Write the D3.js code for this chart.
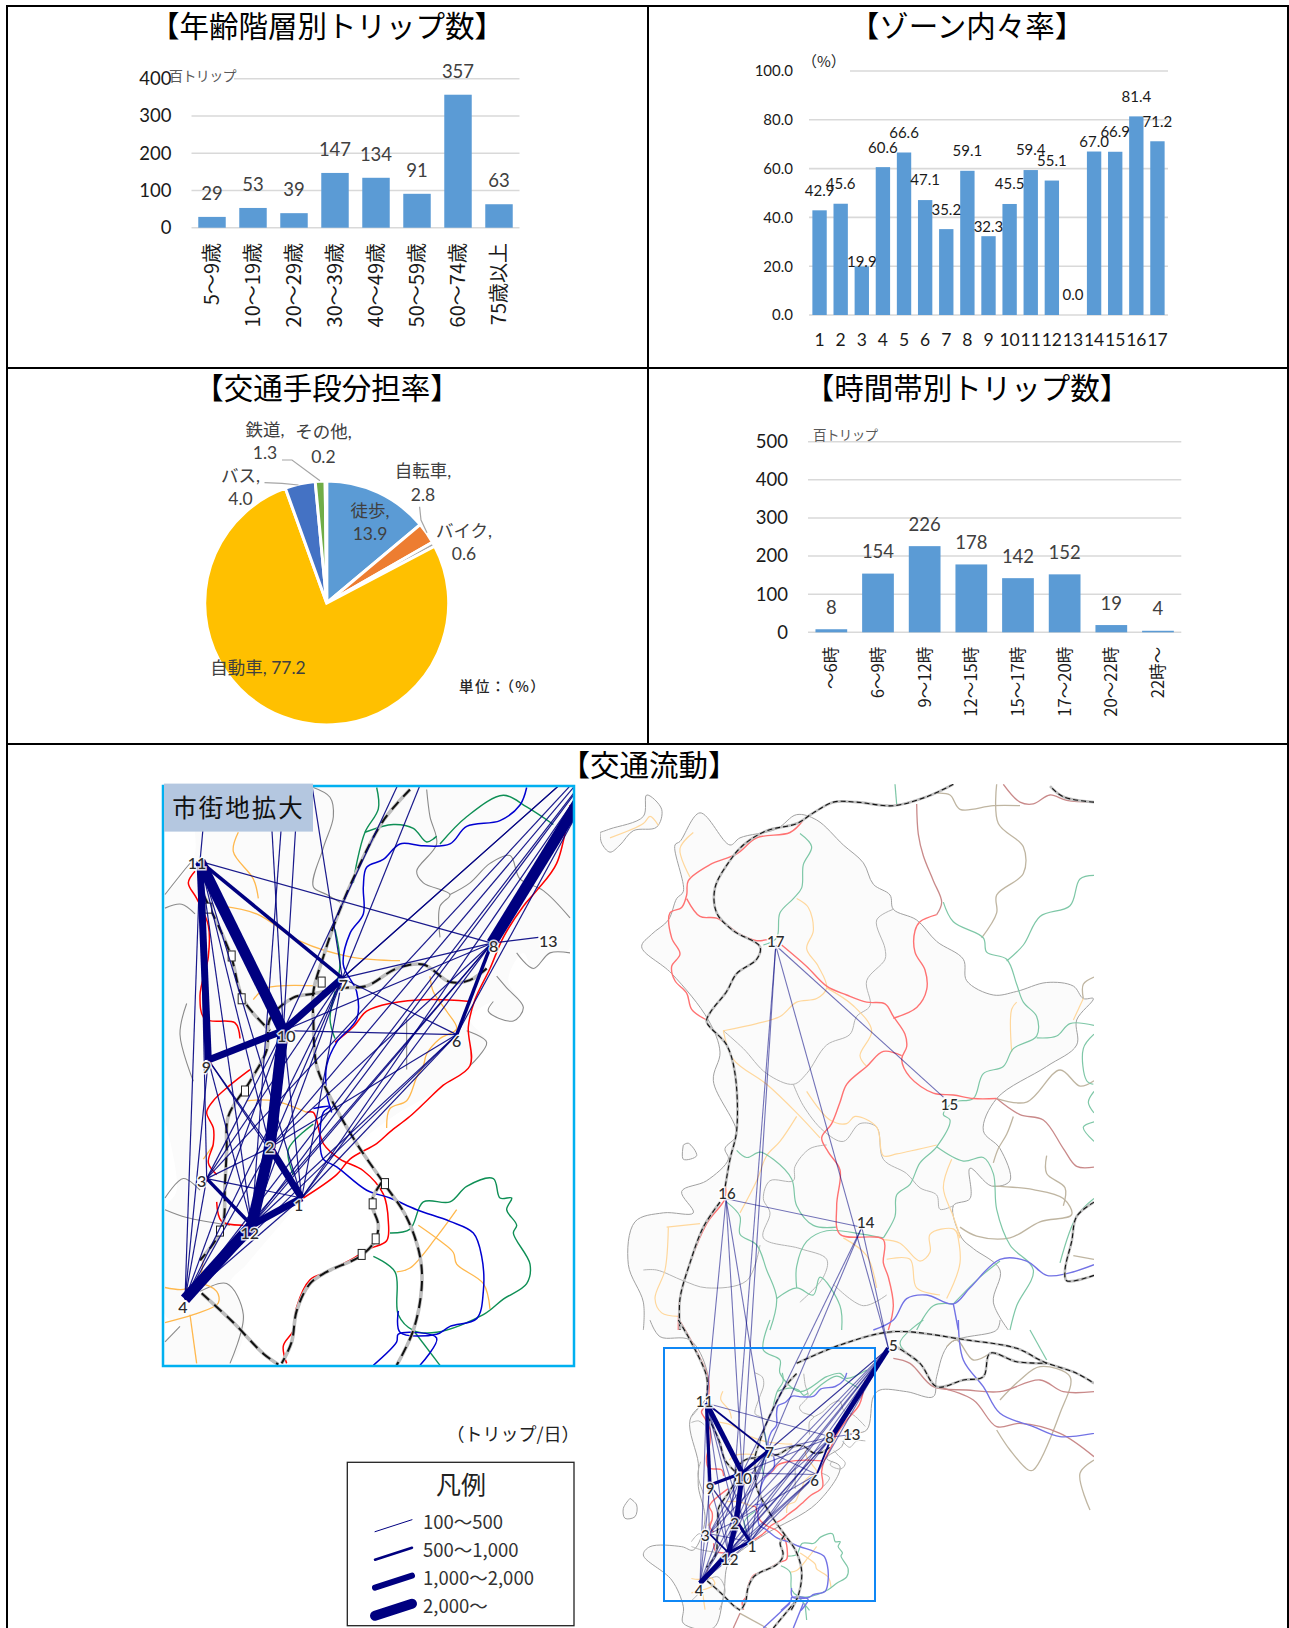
<!DOCTYPE html>
<html lang="ja">
<head>
<meta charset="utf-8">
<title>交通実態調査</title>
<script src="https://cdn.jsdelivr.net/npm/d3@7"></script>
<style>
    html, body { margin: 0; padding: 0; background: #fff; }
    svg { display: block; }
    text { font-family: "Lato", "Noto Sans CJK JP", sans-serif; }
    .cjk { font-family: "Noto Sans CJK JP", sans-serif; }
</style>
</head>
<body>
<div id="page"></div>
<script>
/* * * * * * * * * * * * * *
*          Data            *
* * * * * * * * * * * * * */

const ageLabels = ["5～9歳", "10～19歳", "20～29歳", "30～39歳", "40～49歳", "50～59歳", "60～74歳", "75歳以上"];
const ageTrips = [29, 53, 39, 147, 134, 91, 357, 63];
const ageTicks = [0, 100, 200, 300, 400];

const zoneLabels = ["1", "2", "3", "4", "5", "6", "7", "8", "9", "10", "11", "12", "13", "14", "15", "16", "17"];
const zoneRates = [42.9, 45.6, 19.9, 60.6, 66.6, 47.1, 35.2, 59.1, 32.3, 45.5, 59.4, 55.1, 0.0, 67.0, 66.9, 81.4, 71.2];
const zoneTicks = [0, 20, 40, 60, 80, 100];

const modeNames = ["徒歩", "自転車", "バイク", "自動車", "バス", "鉄道", "その他"];
const modeShares = [13.9, 2.8, 0.6, 77.2, 4.0, 1.3, 0.2];
const modeColors = ["#5B9BD5", "#ED7D31", "#A5A5A5", "#FFC000", "#4472C4", "#70AD47", "#255E91"];

const hourLabels = ["～6時", "6～9時", "9～12時", "12～15時", "15～17時", "17～20時", "20～22時", "22時～"];
const hourTrips = [8, 154, 226, 178, 142, 152, 19, 4];
const hourTicks = [0, 100, 200, 300, 400, 500];

const legendLabels = ["100～500", "500～1,000", "1,000～2,000", "2,000～"];

// zones of the flow map, in the pixel space of the enlarged map
const zoneIds = [1, 2, 3, 4, 5, 6, 7, 8, 9, 10, 11, 12, 13, 14, 15, 16, 17];
const zoneX = [301.7, 270, 206.7, 185, 623.8, 456.7, 342.3, 491.7, 208.3, 283.3, 200, 251.7, 538.3, 561.8, 751.9, 245.6, 361.4];
const zoneY = [1198, 1147.4, 1178.6, 1299.2, 727.8, 1034.6, 978.2, 943.2, 1059.9, 1030.7, 861.4, 1225.3, 937.3, 433, 116.6, 364, -252];

// flows: [from, to] per legend class
const flows100 = [[11,8],[11,4],[11,12],[11,3],[11,2],[11,1],[9,2],[9,12],[9,1],[9,4],[10,4],[10,6],[10,8],[10,12],[10,1],[10,3],
    [7,8],[7,6],[7,1],[7,2],[7,12],[7,4],[7,3],[7,5],[8,2],[8,1],[8,12],[8,13],[8,4],[6,1],[6,2],[6,12],[6,4],
    [5,1],[5,2],[5,12],[5,10],[5,4],[5,6],[5,3],[3,2],[3,1],[3,4],[4,2],[4,1],
    [16,11],[16,10],[16,7],[16,14],[17,10],[17,12],[17,15],[17,5],[14,7],[14,10],[14,5]];
const flows500 = [[11,7],[8,6],[3,12]];
const flows1000 = [[7,10],[9,10],[12,1],[11,9],[2,1]];
const flows2000 = [[8,5],[11,10],[2,12],[10,2],[4,12]];

// roads of the enlarged map (frame 1320 x 1568)
const insetRed = [
    [[460,1100],[560,1040],[600,1000],[680,960],[720,930],[780,890],[830,850],[880,810],[960,760],[955,660],[975,590],[1020,510],[1060,430],[1120,350],[1160,310],[1220,240],[1260,90]],
    [[555,700],[610,660],[650,620],[720,600],[840,590],[960,595]],
    [[135,260],[115,290],[140,330],[175,400],[175,480],[150,580],[165,640],[255,650],[270,690]],
    [[300,770],[240,810],[190,850],[170,880],[190,920],[190,960],[175,1010],[200,1040]],
    [[200,1110],[215,1160],[280,1170]],
    [[470,880],[490,880],[520,960],[570,1000],[640,1030],[700,1090],[715,1160],[710,1210],[660,1230],[600,1260],[530,1290],[480,1310],[440,1380],[430,1440],[400,1480],[410,1525]]
];
const insetBlue = [
    [[1130,45],[1110,90],[1050,130],[950,145],[900,190],[820,195],[750,190],[700,230],[650,250],[640,300],[640,370],[600,420],[580,500],[620,570],[620,640],[560,700],[530,760],[530,830],[545,880]],
    [[490,870],[540,865],[520,880],[510,960],[520,1000],[560,1020],[650,1080],[720,1100],[800,1130],[900,1160],[970,1190],[995,1250],[1000,1340],[980,1410],[900,1430],[860,1450],[750,1445],[745,1390]],
    [[670,1530],[740,1470],[745,1450],[860,1460],[810,1530]]
];
const insetGreen = [
    [[680,45],[685,100],[645,160],[620,240],[610,290]],
    [[645,160],[730,140],[790,150],[830,185],[860,170]],
    [[870,190],[950,120],[1060,65],[1130,95],[1210,140]],
    [[555,410],[570,500],[540,640],[555,690]],
    [[490,910],[415,975],[430,1040]],
    [[720,1190],[780,1180],[820,1110],[900,1110],[950,1070],[1030,1050],[1050,1100],[1085,1100],[1070,1130],[1100,1170],[1090,1190],[1140,1270],[1130,1320],[1060,1360],[1000,1400],[860,1445],[790,1440],[745,1400],[735,1290],[670,1250]],
    [[790,1440],[870,1530]]
];
const insetOrange = [
    [[265,160],[250,210],[310,280],[325,330]],
    [[215,350],[320,370],[450,440],[600,480],[750,490]],
    [[310,590],[350,560],[500,555]],
    [[840,530],[850,570],[890,620],[920,665],[870,690],[830,730],[820,760],[800,790],[770,850],[720,870],[710,920]],
    [[160,1000],[190,965]],
    [[290,850],[370,850],[470,880]],
    [[45,1330],[100,1335],[150,1320],[200,1340],[205,1370],[130,1400],[45,1420]],
    [[120,1400],[140,1525]],
    [[150,1320],[160,1260]],
    [[805,1170],[870,1210],[910,1240],[920,1270],[1000,1320],[1020,1385]],
    [[920,1130],[860,1200],[780,1280],[740,1290]]
];
const insetGray = [
    [[45,320],[110,250],[130,230]],
    [[45,355],[95,345],[135,370]],
    [[110,600],[90,680],[130,800]],
    [[45,1100],[100,1050],[150,1080]],
    [[45,1130],[110,1150],[240,1170]],
    [[490,45],[540,70],[550,120],[520,200],[490,300],[530,320],[570,340]],
    [[830,50],[840,120],[860,190],[800,260],[820,290],[900,320],[870,350],[870,430]],
    [[900,320],[960,290],[1020,240],[1080,220],[1110,280],[1180,310],[1260,380]],
    [[1100,470],[1150,510],[1200,470],[1260,470]],
    [[1040,530],[1070,560],[1120,610],[1090,645],[1015,620],[1030,595]],
    [[950,670],[1010,700],[960,760]],
    [[770,640],[770,770]],
    [[150,1340],[230,1320],[280,1400],[240,1525]],
    [[45,1470],[90,1430]]
];
const insetRail = [
    [[780,50],[700,130],[620,260],[560,380],[520,480],[490,570],[490,640],[500,760],[540,840],[620,960],[700,1060],[770,1150],[810,1250],[815,1330],[790,1440],[740,1530]],
    [[160,320],[240,470],[280,590],[360,670]],
    [[1010,510],[960,540],[900,545],[820,500],[740,510],[650,555],[580,560],[490,575],[430,585],[360,640],[350,720],[300,800],[235,890],[230,980],[225,1060],[215,1180],[150,1260]],
    [[155,1345],[250,1420],[340,1500],[385,1528]],
    [[695,1060],[665,1110],[685,1170],[675,1210],[630,1250],[530,1290],[480,1320],[440,1390],[425,1470],[395,1525]]
];
const insetStations = [[175,355],[245,478],[275,588],[285,825],[210,1185],[515,545],[705,1063],[668,1115],[677,1205],[635,1245]];
const insetLand = [[45,320],[130,230],[160,45],[1270,45],[1270,380],[1250,470],[1200,470],[1150,515],[1120,470],[1075,540],[1120,610],[1090,645],[1020,620],[1030,595],[960,640],[1010,700],[960,760],[870,820],[730,890],[640,950],[560,1030],[460,1100],[400,1160],[290,1270],[240,1320],[285,1400],[240,1525],[45,1525],[45,1470],[90,1430],[45,1400],[45,1130],[80,1080],[45,900]];

// overview map, north half (frame 1500 x 1568)
const northLand = [[130,1568],[130,1490],[85,1385],[105,1265],[190,1240],[280,1240],[245,1180],[320,1150],[385,1090],[375,1060],[410,1020],[340,870],[360,790],[325,700],[215,570],[125,495],[155,460],[205,420],[230,360],[250,340],[225,210],[240,200],[300,120],[390,210],[420,190],[530,165],[590,125],[650,140],[730,210],[790,260],[820,320],[870,350],[880,390],[950,420],[1010,480],[1090,530],[1100,590],[1180,630],[1250,620],[1340,595],[1420,605],[1450,640],[1480,640],[1430,700],[1430,770],[1340,830],[1190,920],[1150,1010],[1200,1060],[1230,1150],[1175,1165],[1110,1115],[1110,1200],[1060,1220],[1085,1310],[1120,1340],[1200,1400],[1180,1490],[1225,1568]];
const northPeninsula = [[0,175],[30,165],[130,130],[140,70],[185,110],[170,160],[100,170],[60,210],[30,230],[5,205],[0,175]];
const northIsland = [[250,1050],[265,1045],[290,1080],[250,1090],[250,1050]];
const northRed = [
    [[610,140],[570,175],[470,190],[410,235],[330,265],[265,310],[260,350],[245,385],[210,400],[215,470],[240,515],[215,550],[225,590],[260,625],[275,670],[320,700]],
    [[260,360],[300,410],[350,415],[420,460],[470,478],[520,470]],
    [[545,490],[620,550],[680,605],[740,630],[800,650],[855,655],[880,690],[915,740],[920,775],[905,810],[930,860],[1000,905],[1060,910],[1120,920],[1190,920]],
    [[880,695],[950,665],[980,615],[975,560],[945,510],[945,450],[960,425],[1010,405]],
    [[905,800],[850,788],[800,830],[740,880],[720,930],[695,990],[665,1030],[685,1070],[720,1120],[710,1220],[720,1300],[850,1315],[850,1380],[865,1420],[880,1500],[865,1568]],
    [[375,1160],[375,1200],[320,1270],[270,1380],[240,1480],[235,1568]]
];
const northBrown = [
    [[1010,405],[1025,370],[1000,310],[970,240],[955,180],[950,95]],
    [[1190,920],[1260,965],[1330,980],[1390,1060],[1430,1110],[1482,1112]],
    [[1210,40],[1260,90],[1300,95],[1350,70],[1400,85],[1482,90]]
];
const northGreen = [
    [[600,178],[635,215],[610,265],[605,330],[580,360],[540,400],[530,470],[490,490]],
    [[1030,370],[1060,425],[1150,470],[1160,510],[1220,530],[1250,600],[1270,650],[1310,690],[1310,745],[1240,780],[1210,830],[1150,850],[1120,920],[1060,930],[1030,965],[1050,980],[1010,1055],[960,1100],[930,1160],[890,1190],[885,1250],[850,1310]],
    [[1482,295],[1440,305],[1410,380],[1320,410],[1270,490],[1220,535]],
    [[1310,750],[1370,745],[1410,710],[1482,715]],
    [[1010,1055],[1090,1095],[1150,1085],[1180,1130],[1190,1230],[1230,1330],[1300,1400],[1250,1500],[1230,1568]],
    [[410,1065],[440,1085],[480,1070],[520,1090],[575,1145],[590,1220],[640,1275],[710,1280]],
    [[380,1210],[420,1250],[420,1300],[470,1330],[500,1400],[530,1480],[510,1568]],
    [[530,1480],[590,1450],[640,1470],[660,1420],[720,1500],[725,1568]],
    [[850,1310],[790,1300],[680,1290],[620,1320],[590,1390],[590,1450]],
    [[1060,1495],[1000,1500],[950,1568]],
    [[1060,1495],[1140,1420],[1200,1375]],
    [[1380,1380],[1430,1250],[1482,1200]],
    [[1482,740],[1450,780],[1460,870],[1480,880]],
    [[1482,900],[1465,930],[1482,960]],
    [[1482,985],[1450,1000],[1482,1040]],
    [[885,40],[890,95]]
];
const northOrange = [
    [[30,190],[130,150],[150,130],[175,155]],
    [[280,175],[240,220],[270,300]],
    [[590,360],[625,385],[640,450],[620,500],[655,550],[680,610],[650,640],[590,650],[540,690],[470,710],[370,730]],
    [[680,610],[760,660],[815,730],[780,800],[800,830]],
    [[370,730],[400,810],[500,880],[590,960],[660,1030]],
    [[590,970],[540,1040],[500,1080],[470,1150],[420,1240]],
    [[620,900],[690,980],[740,990],[765,970],[830,1000],[850,1080],[890,1075],[1010,1050]],
    [[200,1280],[300,1270]],
    [[205,1280],[195,1400],[165,1480],[185,1520],[235,1530]],
    [[1055,1090],[1030,1170],[1060,1250],[1080,1310],[1060,1285],[990,1300],[990,1350],[960,1375],[900,1325],[850,1315]],
    [[1070,1290],[1080,1380],[1040,1480]],
    [[860,1370],[930,1370],[950,1450],[1020,1470]],
    [[1250,650],[1235,670],[1235,790]],
    [[1450,640],[1420,700]],
    [[730,1310],[800,1360],[830,1450]]
];
const northTan = [
    [[1010,65],[1050,70],[1080,110],[1180,100],[1260,100]],
    [[1190,40],[1195,150],[1270,215],[1270,290],[1190,350],[1190,400],[1145,470]],
    [[1482,580],[1450,600],[1450,640]],
    [[1190,920],[1280,930],[1380,840],[1440,885],[1482,870]],
    [[1240,970],[1220,1020],[1195,1060],[1180,1100]],
    [[1340,1080],[1340,1130],[1395,1170],[1390,1220]],
    [[1180,1165],[1300,1175],[1390,1200],[1415,1245],[1320,1265],[1230,1310],[1130,1305],[1080,1280]],
    [[1482,1370],[1420,1360]]
];
const northGray = [
    [[880,390],[830,420],[855,500],[855,530],[800,590],[810,660],[770,690],[750,740],[680,770],[620,850],[580,880],[500,850],[430,780],[370,730]],
    [[580,880],[610,940],[670,1010],[730,1040],[780,990],[830,1000],[850,1090],[920,1130],[960,1170],[1010,1190],[1020,1230],[1060,1220]],
    [[680,1050],[630,1060],[585,1110],[580,1150],[510,1150],[490,1200],[510,1240],[490,1310],[600,1340],[680,1370],[670,1420],[600,1490]],
    [[130,1400],[170,1400],[250,1430],[320,1450],[440,1430],[480,1330]],
    [[700,1440],[790,1500],[860,1470]]
];
const northRail = [
    [[1060,40],[980,75],[880,100],[770,90],[700,90],[640,120],[590,150],[500,170],[430,210],[385,260],[345,330],[350,400],[400,450],[480,495],[470,530],[410,570],[380,620],[330,680],[320,705],[380,770],[405,850],[410,1010],[390,1090],[375,1170]],
    [[360,1210],[310,1280],[270,1380],[240,1480],[240,1568]],
    [[1482,90],[1390,75],[1350,45]],
    [[1482,1210],[1430,1250],[1415,1320],[1395,1400],[1400,1430],[1482,1415]]
];
const northBlue = [
    [[820,1568],[880,1540],[920,1480],[980,1470],[1060,1495],[1110,1450],[1200,1370],[1280,1375],[1340,1415],[1400,1410],[1482,1385]],
    [[1060,1495],[1075,1568]]
];

// overview map, south half (frame 1500 x 924)
const southLand = [[150,0],[180,50],[270,60],[320,150],[320,230],[270,300],[295,430],[295,500],[315,600],[280,690],[245,680],[150,680],[130,705],[215,780],[250,860],[250,910],[340,924],[370,830],[385,730],[440,680],[500,640],[650,550],[720,440],[680,415],[725,380],[740,345],[800,330],[820,230],[840,210],[920,215],[1000,230],[1010,170],[1050,70],[1190,30],[1200,0]];
const southIsland = [[90,535],[70,565],[75,595],[105,590],[110,555],[90,535]];
const southRail = [
    [[235,0],[270,60],[320,170],[320,230]],
    [[590,130],[720,75],[880,35],[1100,60],[1250,85],[1330,125],[1430,160],[1482,190]],
    [[880,75],[960,130],[1010,200],[1090,180],[1150,170],[1170,100],[1250,125],[1340,130]],
    [[590,840],[520,924]]
];
const southBrown = [
    [[880,115],[930,130],[1000,200],[1100,210],[1200,215],[1320,180],[1390,215],[1482,215]],
    [[1010,200],[1120,240],[1190,320],[1260,310],[1380,340],[1482,410]],
    [[420,880],[400,924]]
];
const southRed = [
    [[238,0],[275,65],[325,175],[325,235]]
];
const southBlue = [
    [[1075,0],[1090,120],[1150,200],[1200,280],[1300,320],[1380,350],[1482,340]],
    [[570,850],[490,924]],
    [[610,850],[580,924]]
];
const southTan = [
    [[1200,240],[1260,180],[1320,140],[1410,170],[1380,280],[1300,450],[1285,450],[1230,390],[1190,330]],
    [[1170,100],[1120,120],[1070,60],[1040,80]],
    [[1482,420],[1440,460],[1470,570]],
    [[420,880],[500,924]]
];
const southGreen = [
    [[970,0],[900,70],[960,130]],
    [[1290,30],[1340,120]],
    [[510,0],[490,90],[540,120],[540,160],[600,215],[680,170],[720,160],[740,175],[800,150]],
    [[615,850],[620,900]]
];

/* * * * * * * * * * * * * *
*         Drawing          *
* * * * * * * * * * * * * */

const svg = d3.select("#page").append("svg")
    .attr("width", 1289)
    .attr("height", 1628);

// table frame
const frame = svg.append("g").attr("fill", "none").attr("stroke", "#000").attr("stroke-width", 2);
[[7, 6, 7, 1628], [1288, 6, 1288, 1628], [6, 6, 1289, 6], [6, 368, 1289, 368], [6, 744, 1289, 744], [648, 6, 648, 744]].forEach(d => {
    frame.append("line").attr("x1", d[0]).attr("y1", d[1]).attr("x2", d[2]).attr("y2", d[3]);
});

function panelTitle(label, x, y) {
    svg.append("text")
        .attr("class", "cjk")
        .attr("x", x)
        .attr("y", y)
        .attr("dy", "0.36em")
        .attr("text-anchor", "middle")
        .attr("font-size", 29.5)
        .attr("fill", "#000")
        .text(label);
}

panelTitle("【年齢階層別トリップ数】", 327, 26);
panelTitle("【ゾーン内々率】", 967, 26);
panelTitle("【交通手段分担率】", 327, 388);
panelTitle("【時間帯別トリップ数】", 967, 388);
panelTitle("【交通流動】", 649, 765);

// Column chart used by the three bar panels
function barChart(opt) {
    const g = svg.append("g");

    const x = d3.scaleBand()
        .domain(opt.labels)
        .range([opt.left, opt.right])
        .paddingInner(opt.padding)
        .paddingOuter(opt.padding / 2);

    const y = d3.scaleLinear()
        .domain([0, d3.max(opt.ticks)])
        .range([opt.bottom, opt.top]);

    // gridlines
    g.append("g").selectAll("line")
        .data(opt.ticks)
        .enter().append("line")
        .attr("x1", opt.left)
        .attr("x2", opt.right)
        .attr("y1", d => y(d))
        .attr("y2", d => y(d))
        .attr("stroke", "#D9D9D9")
        .attr("stroke-width", 1.6);

    // unit label sits on a white patch that hides the top gridline
    if (opt.unitPatch) {
        g.append("rect")
            .attr("x", opt.unitPatch[0])
            .attr("y", opt.unitPatch[1])
            .attr("width", opt.unitPatch[2])
            .attr("height", opt.unitPatch[3])
            .attr("fill", "#fff");
    }

    const yAxis = d3.axisLeft(y)
        .tickValues(opt.ticks)
        .tickSize(0)
        .tickPadding(opt.tickGap)
        .tickFormat(opt.tickFormat);

    const yG = g.append("g")
        .attr("transform", `translate(${opt.left},0)`)
        .call(yAxis);
    yG.select(".domain").remove();
    yG.selectAll("text")
        .attr("font-size", opt.tickSize)
        .attr("font-family", null)
        .attr("fill", "#1a1a1a");

    g.selectAll(".bar")
        .data(opt.values)
        .enter().append("rect")
        .attr("class", "bar")
        .attr("x", (d, i) => x(opt.labels[i]))
        .attr("y", d => y(d))
        .attr("width", x.bandwidth())
        .attr("height", d => y(0) - y(d))
        .attr("fill", "#5B9BD5");

    g.selectAll(".value")
        .data(opt.values)
        .enter().append("text")
        .attr("class", "value")
        .attr("x", (d, i) => x(opt.labels[i]) + x.bandwidth() / 2)
        .attr("y", (d, i) => y(d) - (opt.valueGaps ? opt.valueGaps[i] : opt.valueGap))
        .attr("dy", "0.36em")
        .attr("text-anchor", "middle")
        .attr("font-size", opt.valueSize)
        .attr("fill", opt.valueColor)
        .text(opt.valueFormat);

    // category labels
    if (opt.rotated) {
        g.selectAll(".cat")
            .data(opt.labels)
            .enter().append("text")
            .attr("class", "cat cjk")
            .attr("transform", d => `translate(${x(d) + x.bandwidth() / 2},${opt.catTop}) rotate(-90)`)
            .attr("dy", "0.36em")
            .attr("text-anchor", "end")
            .attr("font-size", opt.catSize)
            .attr("fill", "#1a1a1a")
            .text(d => d);
    } else {
        g.selectAll(".cat")
            .data(opt.labels)
            .enter().append("text")
            .attr("class", "cat")
            .attr("x", d => x(d) + x.bandwidth() / 2)
            .attr("y", opt.catTop)
            .attr("dy", "0.36em")
            .attr("text-anchor", "middle")
            .attr("font-size", opt.catSize)
            .attr("fill", "#1a1a1a")
            .text(d => d);
    }

    if (opt.unit) {
        g.append("text")
            .attr("class", "cjk")
            .attr("x", opt.unit[0])
            .attr("y", opt.unit[1])
            .attr("dy", "0.36em")
            .attr("font-size", opt.unitSize)
            .attr("letter-spacing", opt.unitSpacing || 0)
            .attr("fill", opt.unitColor)
            .text(opt.unitText);
    }
}

barChart({
    labels: ageLabels, values: ageTrips, ticks: ageTicks,
    left: 191.5, right: 519.5, top: 78.7, bottom: 227.7, padding: 0.33,
    tickGap: 20, tickSize: 18.5, tickFormat: d3.format("d"),
    valueGap: 23.5, valueSize: 18.5, valueColor: "#404040", valueFormat: d3.format("d"),
    rotated: true, catTop: 243, catSize: 20,
    unit: [169, 76], unitText: "百トリップ", unitSize: 14, unitSpacing: -0.6, unitColor: "#595959", unitPatch: [171, 66, 63, 18]
});

barChart({
    labels: zoneLabels, values: zoneRates, ticks: zoneTicks,
    left: 809, right: 1168, top: 71, bottom: 315, padding: 0.32,
    tickGap: 16, tickSize: 15, tickFormat: d3.format(".1f"),
    // most labels float 20px above the bar, a few were nudged closer in the original
    valueGaps: [20, 20, 4.5, 20, 20, 20, 20, 20, 10, 20, 20, 20, 20, 10, 20, 20, 20],
    valueSize: 15, valueColor: "#1a1a1a", valueFormat: d3.format(".1f"),
    rotated: false, catTop: 340, catSize: 17.5,
    unit: [802, 61.7], unitText: "（%）", unitSize: 15, unitColor: "#262626", unitPatch: [806, 60, 44, 14]
});

barChart({
    labels: hourLabels, values: hourTrips, ticks: hourTicks,
    left: 808, right: 1181.3, top: 441.7, bottom: 632.3, padding: 0.32,
    tickGap: 20, tickSize: 18.5, tickFormat: d3.format("d"),
    valueGap: 22, valueSize: 18.5, valueColor: "#404040", valueFormat: d3.format("d"),
    rotated: true, catTop: 646.7, catSize: 16.6,
    unit: [813, 435], unitText: "百トリップ", unitSize: 13.5, unitSpacing: -0.6, unitColor: "#595959"
});

// Pie
const pieG = svg.append("g").attr("transform", "translate(326.7,603)");
const pie = d3.pie().sort(null).value(d => d);
const arc = d3.arc().innerRadius(0).outerRadius(122);

pieG.selectAll("path")
    .data(pie(modeShares))
    .enter().append("path")
    .attr("d", arc)
    .attr("fill", (d, i) => modeColors[i])
    .attr("stroke", "#fff")
    .attr("stroke-width", 3);

// leader lines and labels, offset from the pie centre
const pieLeaders = [
    [[-62.2, -120.3], [-44.7, -119.7], [-28.2, -118]],
    [[-44.7, -143], [-34.7, -143], [-6.7, -122.3]],
    [[92.9, -96.3], [94.3, -83], [100.3, -70.3]]
];
pieG.selectAll(".leader")
    .data(pieLeaders)
    .enter().append("path")
    .attr("class", "leader")
    .attr("d", d3.line())
    .attr("fill", "none")
    .attr("stroke", "#A6A6A6")
    .attr("stroke-width", 1.2);

const pieLabelX = [43.3, 96.3, 137.3, -68.7, -86.2, -61.7, -3.3];
const pieLabelY = [-92, -132, -72.3, 65, -127, -173, -171];
const pieValueY = [-69, -108, -49, null, -104, -150, -146];

modeNames.forEach((name, i) => {
    const oneLine = pieValueY[i] === null;
    pieG.append("text")
        .attr("x", pieLabelX[i])
        .attr("y", pieLabelY[i])
        .attr("dy", "0.36em")
        .attr("text-anchor", "middle")
        .attr("font-size", 17.5)
        .attr("fill", "#404040")
        .text(oneLine ? `${name}, ${modeShares[i]}` : `${name},`);
    if (!oneLine) {
        pieG.append("text")
            .attr("x", pieLabelX[i])
            .attr("y", pieValueY[i])
            .attr("dy", "0.36em")
            .attr("text-anchor", "middle")
            .attr("font-size", 17.5)
            .attr("fill", "#404040")
            .text(d3.format(".1f")(modeShares[i]));
    }
});

svg.append("text")
    .attr("class", "cjk")
    .attr("x", 459)
    .attr("y", 686.7)
    .attr("dy", "0.36em")
    .attr("font-size", 14.5)
    .attr("font-weight", 500)
    .attr("letter-spacing", 1.4)
    .attr("fill", "#262626")
    .text("単位：（%）");

/* * * * * * * * * * * * * *
*        Flow maps         *
* * * * * * * * * * * * * */

// crop frames -> page pixels
const frame5X = d3.scaleLinear().domain([0, 1320]).range([150, 590]);
const frame5Y = d3.scaleLinear().domain([0, 1568]).range([770, 1380.1]);
const frame6X = d3.scaleLinear().domain([0, 1500]).range([600, 1100]);
const frame6Y = d3.scaleLinear().domain([0, 1568]).range([770, 1330]);
const frame7X = d3.scaleLinear().domain([0, 1500]).range([600, 1100]);
const frame7Y = d3.scaleLinear().domain([0, 924]).range([1320, 1628]);

// enlarged map pixels -> overview map pixels
const overviewX = d3.scaleLinear().domain([185, 491.7]).range([700, 831.7]);
const overviewY = d3.scaleLinear().domain([861.4, 1299.2]).range([1403.3, 1583.3]);

const curve = d3.curveCatmullRom.alpha(0.5);
const lineFrame5 = d3.line().curve(curve).x(d => frame5X(d[0])).y(d => frame5Y(d[1]));
const lineFrame6 = d3.line().curve(curve).x(d => frame6X(d[0])).y(d => frame6Y(d[1]));
const lineFrame7 = d3.line().curve(curve).x(d => frame7X(d[0])).y(d => frame7Y(d[1]));
const lineFrame5Small = d3.line().curve(curve).x(d => overviewX(frame5X(d[0]))).y(d => overviewY(frame5Y(d[1])));

const defs = svg.append("defs");
defs.append("clipPath").attr("id", "insetClip").append("rect")
    .attr("x", 163).attr("y", 786).attr("width", 411).attr("height", 580);
defs.append("clipPath").attr("id", "overClip").append("rect")
    .attr("x", 600).attr("y", 784).attr("width", 494).attr("height", 844);

function drawLines(g, list, gen, color, width) {
    g.append("g").selectAll("path")
        .data(list)
        .enter().append("path")
        .attr("d", gen)
        .attr("fill", "none")
        .attr("stroke", color)
        .attr("stroke-width", width)
        .attr("stroke-linejoin", "round");
}

function drawRail(g, list, gen, band, dash, dashWidth) {
    drawLines(g, list, gen, "#BDBDBD", band);
    g.append("g").selectAll("path")
        .data(list)
        .enter().append("path")
        .attr("d", gen)
        .attr("fill", "none")
        .attr("stroke", "#111")
        .attr("stroke-width", dashWidth)
        .attr("stroke-dasharray", dash);
}

function drawFlows(g, px, py, widths, opacity) {
    [flows100, flows500, flows1000, flows2000].forEach((flows, c) => {
        g.append("g").selectAll("line")
            .data(flows)
            .enter().append("line")
            .attr("x1", d => px(zoneX[d[0] - 1]))
            .attr("y1", d => py(zoneY[d[0] - 1]))
            .attr("x2", d => px(zoneX[d[1] - 1]))
            .attr("y2", d => py(zoneY[d[1] - 1]))
            .attr("stroke", "#000080")
            .attr("stroke-opacity", c === 0 ? opacity : 1)
            .attr("stroke-width", widths[c]);
    });
}

function drawZoneLabels(g, ids, px, py, dx, dy, size) {
    g.append("g").selectAll("text")
        .data(ids)
        .enter().append("text")
        .attr("x", d => px(zoneX[d - 1]) + dx[d - 1])
        .attr("y", d => py(zoneY[d - 1]) + dy[d - 1])
        .attr("dy", "0.36em")
        .attr("text-anchor", "middle")
        .attr("font-size", size)
        .attr("font-family", "Noto Sans")
        .attr("font-weight", 500)
        .attr("fill", "#2b2b2b")
        .attr("stroke", "#fff")
        .attr("stroke-width", 3)
        .attr("stroke-opacity", 0.85)
        .attr("paint-order", "stroke")
        .text(d => d);
}

// overview map (right)
const overG = svg.append("g").attr("clip-path", "url(#overClip)");
const overRoads = overG.append("g").attr("opacity", 0.55);

[northLand, northPeninsula, northIsland].forEach(d => {
    overRoads.append("path").attr("d", lineFrame6(d))
        .attr("fill", "#F9F9F9").attr("stroke", "#555").attr("stroke-width", 1);
});
[southLand, southIsland].forEach(d => {
    overRoads.append("path").attr("d", lineFrame7(d))
        .attr("fill", "#F9F9F9").attr("stroke", "#555").attr("stroke-width", 1);
});
drawLines(overRoads, northGray, lineFrame6, "#777", 1);
drawLines(overRoads, insetGray, lineFrame5Small, "#777", 1);
drawLines(overRoads, northTan, lineFrame6, "#8c7a55", 1.3);
drawLines(overRoads, southTan, lineFrame7, "#8c7a55", 1.3);
drawLines(overRoads, northOrange, lineFrame6, "#FFB84D", 1.2);
drawLines(overRoads, insetOrange, lineFrame5Small, "#FFB84D", 1.2);
drawLines(overRoads, northGreen, lineFrame6, "#159A5F", 1.2);
drawLines(overRoads, southGreen, lineFrame7, "#159A5F", 1.2);
drawLines(overRoads, insetGreen, lineFrame5Small, "#159A5F", 1.2);
drawLines(overRoads, northBrown, lineFrame6, "#9E2B2B", 1.3);
drawLines(overRoads, southBrown, lineFrame7, "#9E2B2B", 1.3);
drawLines(overRoads, northRed, lineFrame6, "#FF0000", 1.4);
drawLines(overRoads, southRed, lineFrame7, "#FF0000", 1.4);
drawLines(overRoads, insetRed, lineFrame5Small, "#FF0000", 1.4);
drawLines(overRoads, northBlue, lineFrame6, "#0000D0", 1.4);
drawLines(overRoads, southBlue, lineFrame7, "#0000D0", 1.4);
drawLines(overRoads, insetBlue, lineFrame5Small, "#0000D0", 1.4);
drawRail(overG, northRail, lineFrame6, 2.6, "5 3", 1.1);
drawRail(overG, southRail, lineFrame7, 2.6, "5 3", 1.1);
drawRail(overG, insetRail, lineFrame5Small, 2.6, "5 3", 1.1);

drawFlows(overG, overviewX, overviewY, [1.1, 1.8, 3.2, 5], 0.55);

const overLabelDx = [2, -2, -4, -1, 5, -2, 2, -2, 0, 1, -2, 1, 0, 4, 6, 1, 0];
const overLabelDy = [5, 3, 2, 7, -3, 6, 1, 1, 4, 6, -2, 7, 0, -5, 8, -5, -4];
drawZoneLabels(overG, zoneIds, overviewX, overviewY, overLabelDx, overLabelDy, 15);

overG.append("rect")
    .attr("x", 664).attr("y", 1348).attr("width", 211).attr("height", 253)
    .attr("fill", "none").attr("stroke", "#0F87F5").attr("stroke-width", 2);

// enlarged map (left)
const insetG = svg.append("g").attr("clip-path", "url(#insetClip)");
insetG.append("path").attr("d", lineFrame5(insetLand) + "Z").attr("fill", "#FBFBFB");
drawLines(insetG, insetGray, lineFrame5, "#8a8a8a", 1.1);
drawLines(insetG, insetOrange, lineFrame5, "#FFB84D", 1.3);
drawLines(insetG, insetGreen, lineFrame5, "#0E8F55", 1.4);
drawLines(insetG, insetRed, lineFrame5, "#FF0000", 1.5);
drawLines(insetG, insetBlue, lineFrame5, "#0000D0", 1.5);
drawRail(insetG, insetRail, lineFrame5, 3.6, "10 7", 2);

insetG.append("g").selectAll("rect")
    .data(insetStations)
    .enter().append("rect")
    .attr("x", d => frame5X(d[0]) - 3.5)
    .attr("y", d => frame5Y(d[1]) - 5)
    .attr("width", 7)
    .attr("height", 10)
    .attr("fill", "#fff")
    .attr("stroke", "#222")
    .attr("stroke-width", 1);

const insetX = d3.scaleIdentity();
const insetY = d3.scaleIdentity();
drawFlows(insetG, insetX, insetY, [1.2, 3.5, 7, 11], 0.9);

// only these zones fall inside the enlarged map
const insetZones = [1, 2, 3, 4, 6, 7, 8, 9, 10, 11, 12, 13];
const insetLabelDx = [-3, 0, -5, -2, 0, 0, 1, 2, -2, 3, -3, -2, 10, 0, 0, 0, 0];
const insetLabelDy = [7, 0, 3, 8, 0, 7, 7, 3, 7, 6, 2, 8, 4, 0, 0, 0, 0];
drawZoneLabels(insetG, insetZones, insetX, insetY, insetLabelDx, insetLabelDy, 16);

svg.append("rect")
    .attr("x", 163).attr("y", 786).attr("width", 411).attr("height", 580)
    .attr("fill", "none").attr("stroke", "#00B0F0").attr("stroke-width", 2.5);

svg.append("rect")
    .attr("x", 164).attr("y", 783.6).attr("width", 149).attr("height", 48)
    .attr("fill", "#B4C7E0");
svg.append("text")
    .attr("class", "cjk")
    .attr("x", 238.5)
    .attr("y", 807.7)
    .attr("dy", "0.36em")
    .attr("text-anchor", "middle")
    .attr("font-size", 24.5)
    .attr("letter-spacing", 2)
    .attr("fill", "#111")
    .text("市街地拡大");

// legend
svg.append("text")
    .attr("class", "cjk")
    .attr("x", 513)
    .attr("y", 1435)
    .attr("dy", "0.36em")
    .attr("text-anchor", "middle")
    .attr("font-size", 18)
    .attr("fill", "#222")
    .text("（トリップ/日）");

svg.append("rect")
    .attr("x", 347.3).attr("y", 1462.3).attr("width", 226.7).attr("height", 163.4)
    .attr("fill", "#fff").attr("stroke", "#222").attr("stroke-width", 1.3);

svg.append("text")
    .attr("class", "cjk")
    .attr("x", 461)
    .attr("y", 1485)
    .attr("dy", "0.36em")
    .attr("text-anchor", "middle")
    .attr("font-size", 25)
    .attr("fill", "#222")
    .text("凡例");

const legendY = d3.scalePoint().domain(legendLabels).range([1522.7, 1606.7]);
const legendWidth = d3.scaleOrdinal().domain(legendLabels).range([1, 2.5, 6, 10]);

svg.append("g").selectAll("line")
    .data(legendLabels)
    .enter().append("line")
    .attr("x1", 375)
    .attr("x2", 412)
    .attr("y1", d => legendY(d) + 9)
    .attr("y2", d => legendY(d) - 3)
    .attr("stroke", "#000080")
    .attr("stroke-width", d => legendWidth(d))
    .attr("stroke-linecap", "round");

svg.append("g").selectAll("text")
    .data(legendLabels)
    .enter().append("text")
    .attr("class", "cjk")
    .attr("x", 423)
    .attr("y", d => legendY(d))
    .attr("dy", "0.36em")
    .attr("font-size", 18.5)
    .attr("fill", "#333")
    .text(d => d);
</script>
</body>
</html>
